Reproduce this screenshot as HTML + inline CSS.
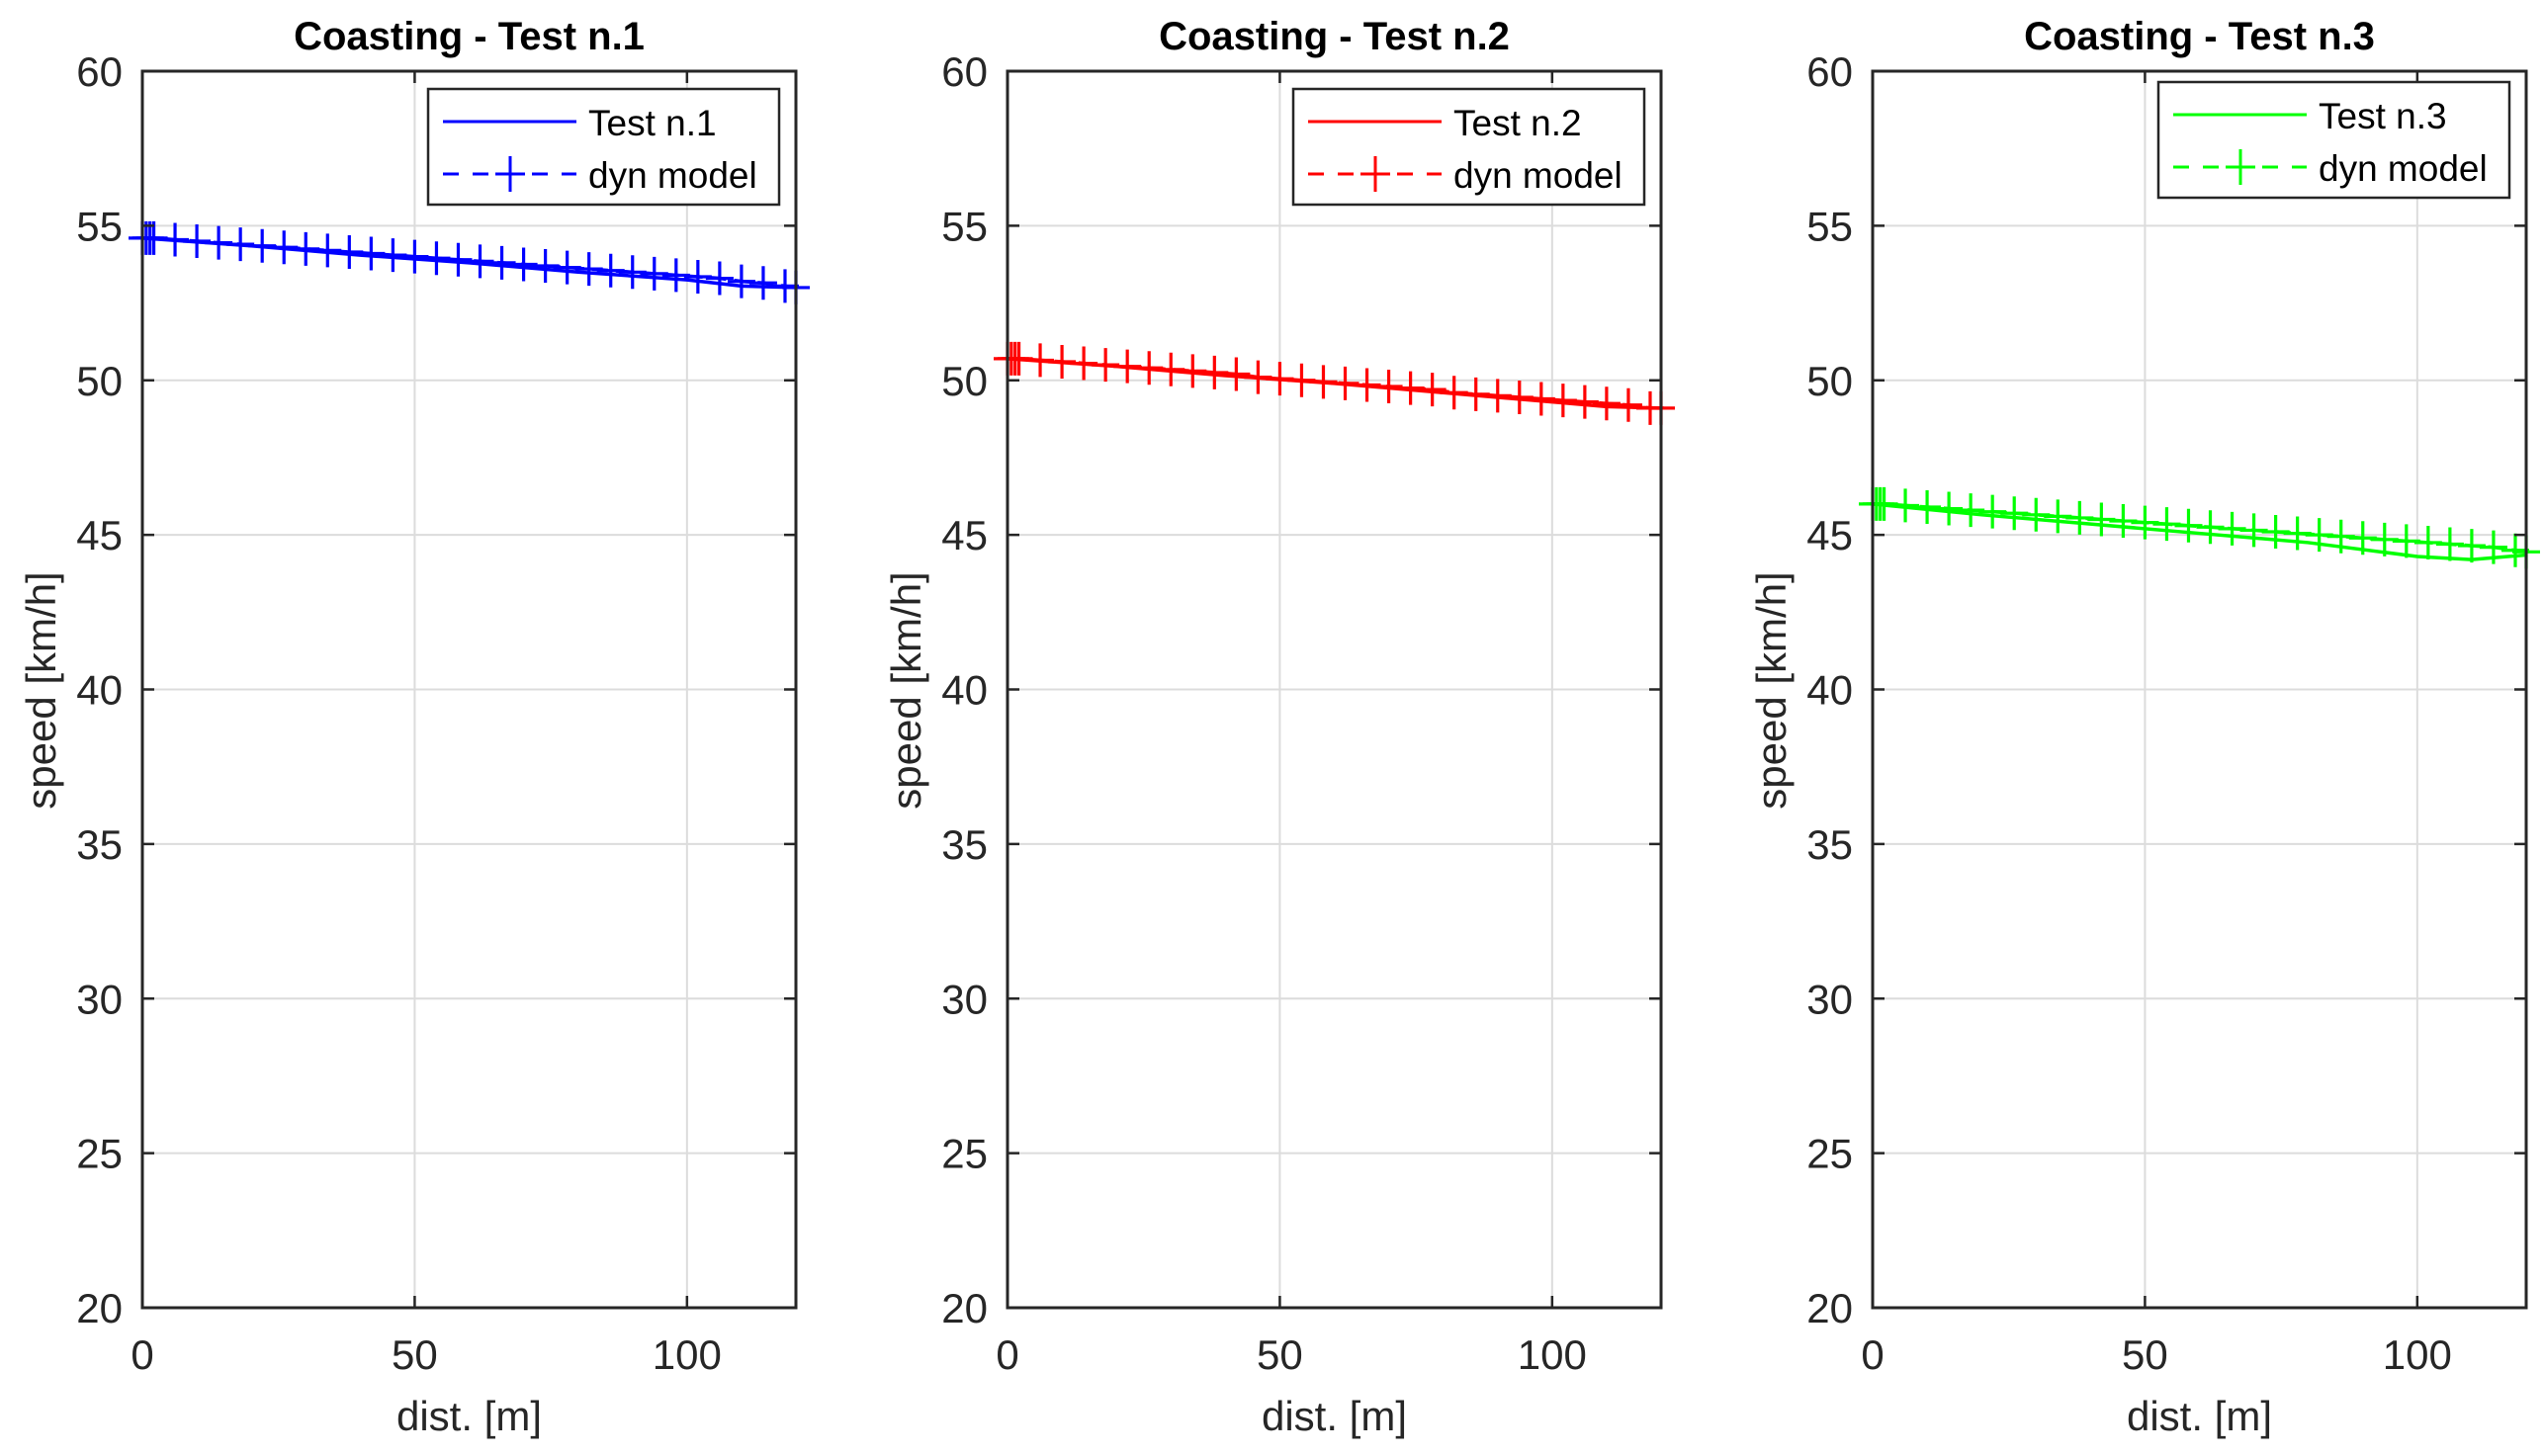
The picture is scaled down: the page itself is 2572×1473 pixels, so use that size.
<!DOCTYPE html>
<html><head><meta charset="utf-8"><style>
html,body{margin:0;padding:0;background:#fff;}
svg{display:block;font-family:"Liberation Sans",Arial,sans-serif;}
</style></head><body>
<svg id="chart" width="2572" height="1473" viewBox="0 0 2572 1473" xmlns="http://www.w3.org/2000/svg"></svg>
<script>
const xTicks = [0, 50, 100];
const yTicks = [20, 25, 30, 35, 40, 45, 50, 55, 60];
const titles = ["Coasting - Test n.1", "Coasting - Test n.2", "Coasting - Test n.3"];
const testNames = ["Test n.1", "Test n.2", "Test n.3"];
const colors = ["#0000ff", "#ff0000", "#00ff00"];
const testDist = [0, 20, 40, 60, 80, 100, 110, 120];
const test1Speed = [54.6, 54.35, 54.05, 53.8, 53.5, 53.25, 53.05, 53.0];
const test2Speed = [50.7, 50.45, 50.15, 49.9, 49.6, 49.3, 49.15, 49.1];
const test3Speed = [46.0, 45.65, 45.35, 45.05, 44.75, 44.3, 44.2, 44.35];
const dynDist = [0,0.7,1.4,2.1,6,10,14,18,22,26,30,34,38,42,46,50,54,58,62,66,70,74,78,82,86,90,94,98,102,106,110,114,118,120];
const dyn1Speed = [54.6,54.6,54.6,54.6,54.55,54.5,54.45,54.4,54.35,54.3,54.25,54.2,54.15,54.1,54.05,54.0,53.95,53.9,53.85,53.8,53.75,53.7,53.65,53.6,53.55,53.5,53.45,53.4,53.35,53.3,53.2,53.15,53.05,53.0];
const dyn2Speed = [50.7,50.7,50.7,50.7,50.65,50.6,50.55,50.5,50.45,50.4,50.35,50.3,50.25,50.2,50.1,50.05,50.0,49.95,49.9,49.85,49.8,49.75,49.7,49.6,49.55,49.5,49.45,49.4,49.35,49.3,49.25,49.2,49.1,49.1];
const dyn3Speed = [46.0,46.0,46.0,46.0,45.95,45.9,45.85,45.8,45.75,45.7,45.65,45.6,45.55,45.5,45.45,45.4,45.35,45.3,45.25,45.2,45.15,45.1,45.05,45.0,44.95,44.9,44.85,44.8,44.75,44.7,44.65,44.6,44.5,44.45];
const testSeries = [test1Speed, test2Speed, test3Speed];
const dynSeries = [dyn1Speed, dyn2Speed, dyn3Speed];

const NS = "http://www.w3.org/2000/svg";
const svg = document.getElementById("chart");
function mk(tag, attrs, parent, text){
  const e = document.createElementNS(NS, tag);
  for (const k in attrs) e.setAttribute(k, attrs[k]);
  if (text !== undefined) e.textContent = text;
  (parent || svg).appendChild(e);
  return e;
}
const lefts = [144, 1019, 1894];
const W = 661, TOP = 72, BOT = 1323;
const XMIN = 0, XMAX = 120, YMIN = 20, YMAX = 60;

for (let p = 0; p < 3; p++) {
  const L = lefts[p];
  const sx = v => L + (v - XMIN) / (XMAX - XMIN) * W;
  const sy = v => BOT - (v - YMIN) / (YMAX - YMIN) * (BOT - TOP);
  const g = mk("g", {});
  
  
  xTicks.forEach(t => {
    const l = mk("line", {x1: sx(t), x2: sx(t), y1: TOP, y2: BOT, stroke: "#dcdcdc", "stroke-width": 2}, g);
    
    
  });
  yTicks.forEach(t => {
    const l = mk("line", {x1: L, x2: L + W, y1: sy(t), y2: sy(t), stroke: "#dcdcdc", "stroke-width": 2}, g);
    
    
  });
  const c = colors[p];
  const tl = mk("polyline", {points: testDist.map((d, i) => sx(d) + "," + sy(testSeries[p][i])).join(" "), fill: "none", stroke: c, "stroke-width": 3.5}, g);
  
  
  const dl = mk("polyline", {points: dynDist.map((d, i) => sx(d) + "," + sy(dynSeries[p][i])).join(" "), fill: "none", stroke: c, "stroke-width": 3.5, "stroke-dasharray": "16,8"}, g);
  
  
  dynDist.forEach((d, i) => {
    const x = sx(d), y = sy(dynSeries[p][i]);
    const m = mk("path", {d: `M${x-14},${y}H${x+14}M${x},${y-17}V${y+17}`, stroke: c, "stroke-width": 3.2}, g);
    
    
  });
  const box = mk("rect", {x: L, y: TOP, width: W, height: BOT - TOP, fill: "none", stroke: "#262626", "stroke-width": 3}, g);
  
  
  xTicks.forEach(t => {
    mk("line", {x1: sx(t), x2: sx(t), y1: BOT, y2: BOT - 12, stroke: "#262626", "stroke-width": 2.5}, g);
    mk("line", {x1: sx(t), x2: sx(t), y1: TOP, y2: TOP + 12, stroke: "#262626", "stroke-width": 2.5}, g);
    const tx = mk("text", {x: sx(t), y: 1385, "text-anchor": "middle", "font-size": 42, fill: "#262626"}, g, String(t));
    
    
  });
  yTicks.forEach(t => {
    mk("line", {x1: L, x2: L + 12, y1: sy(t), y2: sy(t), stroke: "#262626", "stroke-width": 2.5}, g);
    mk("line", {x1: L + W, x2: L + W - 12, y1: sy(t), y2: sy(t), stroke: "#262626", "stroke-width": 2.5}, g);
    const ty = mk("text", {x: L - 20, y: sy(t) + 15, "text-anchor": "end", "font-size": 42, fill: "#262626"}, g, String(t));
    
    
  });
  const ti = mk("text", {x: L + W / 2, y: 50, "text-anchor": "middle", "font-size": 40, "font-weight": "bold", fill: "#000"}, g, titles[p]);
  
  
  const xl = mk("text", {x: L + W / 2, y: 1447, "text-anchor": "middle", "font-size": 42, fill: "#262626"}, g, "dist. [m]");
  
  
  const yl = mk("text", {x: 0, y: 0, "text-anchor": "middle", "font-size": 42, fill: "#262626", transform: `translate(${L - 88},${(TOP + BOT) / 2 + 1}) rotate(-90)`}, g, "speed [km/h]");
  
  
  const lx = L + W - 372, ly = p === 2 ? 83 : 90, lw = 355, lh = 117;
  const lg = mk("g", {}, g);
  
  
  mk("rect", {x: lx, y: ly, width: lw, height: lh, fill: "#fff", stroke: "#262626", "stroke-width": 2.5}, lg);
  const e1 = mk("g", {}, lg);
  
  
  mk("line", {x1: lx + 15, x2: lx + 150, y1: ly + 33, y2: ly + 33, stroke: c, "stroke-width": 3}, e1);
  mk("text", {x: lx + 162, y: ly + 47, "font-size": 37, fill: "#000"}, e1, testNames[p]);
  const e2 = mk("g", {}, lg);
  
  
  mk("line", {x1: lx + 15, x2: lx + 150, y1: ly + 86, y2: ly + 86, stroke: c, "stroke-width": 3, "stroke-dasharray": "16,14"}, e2);
  mk("path", {d: `M${lx+68},${ly+86}H${lx+98}M${lx+83},${ly+68}V${ly+104}`, stroke: c, "stroke-width": 3}, e2);
  mk("text", {x: lx + 162, y: ly + 100, "font-size": 37, fill: "#000"}, e2, "dyn model");
}
</script>
</body></html>
